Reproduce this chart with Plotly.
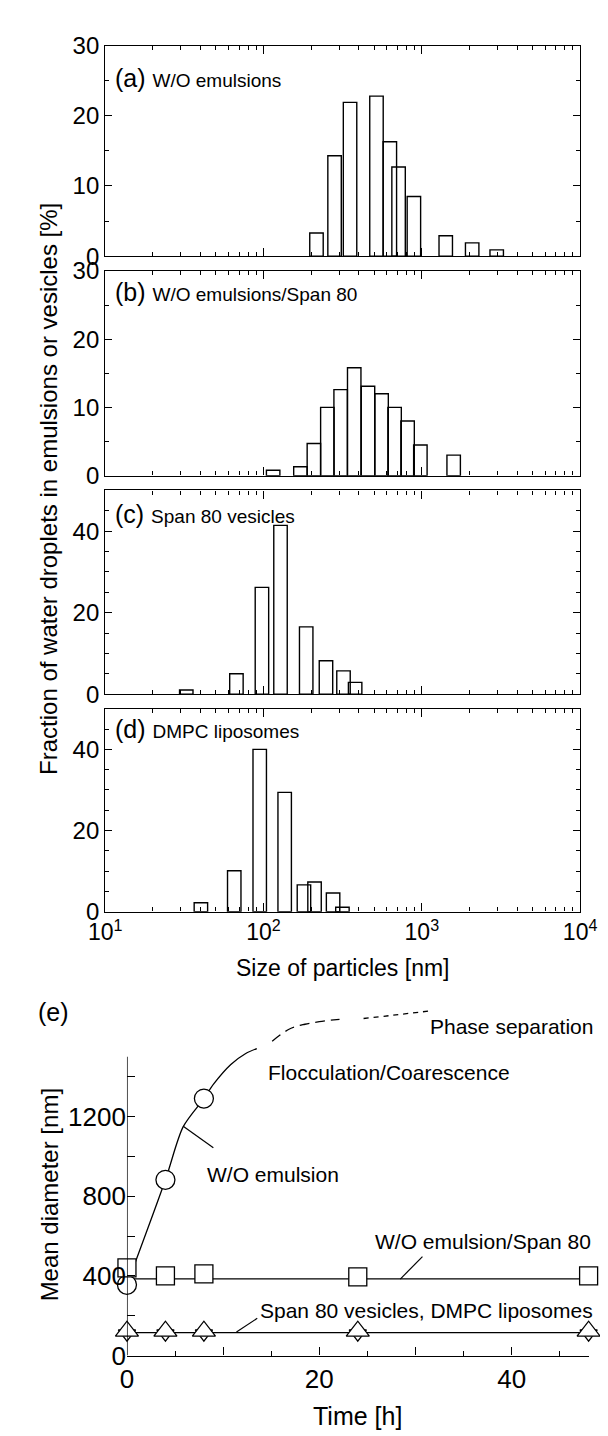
import plotly.graph_objects as go

W, H = 608, 1436
FONT = "Arial, Liberation Sans, sans-serif"

# ---------------- data: size distributions (bin centre nm, fraction %) -------------
a_size = [216, 281, 352, 517, 628, 713, 891, 1416, 2080, 2972]
a_frac = [3.3, 14.3, 21.9, 22.8, 16.3, 12.7, 8.5, 2.9, 1.9, 0.9]

b_size = [115, 171, 208, 253, 307, 374, 457, 557, 673, 813, 979, 1589]
b_frac = [0.8, 1.3, 4.7, 10.0, 12.6, 15.8, 13.1, 12.0, 10.0, 8.0, 4.5, 3.0]

c_size = [32.5, 67.4, 97.7, 128, 186, 248, 320, 379]
c_frac = [1.0, 5.0, 26.2, 41.4, 16.5, 8.2, 5.7, 2.9]

d_size = [40.2, 65.3, 94.6, 136, 180, 210, 275, 315]
d_frac = [2.2, 10.1, 40.0, 29.4, 6.6, 7.3, 4.6, 1.1]

bin_width_decades = 0.085

panel_labels = ["(a)", "(b)", "(c)", "(d)"]
panel_texts = ["W/O emulsions", "W/O emulsions/Span 80", "Span 80 vesicles", "DMPC liposomes"]
panel_ymax = [30, 30, 50, 50]
panel_ymajor = [[0, 10, 20, 30], [0, 10, 20, 30], [0, 20, 40], [0, 20, 40]]
x_major = [10, 100, 1000, 10000]
x_major_text = ["10<sup>1</sup>", "10<sup>2</sup>", "10<sup>3</sup>", "10<sup>4</sup>"]

# ---------------- data: mean diameter vs time ----------------
wo_time = [0, 4, 8]
wo_diam = [355, 882, 1290]
span_em_time = [0, 4, 8, 24, 48]
span_em_diam = [440, 400, 410, 395, 400]
span_em_level = 385
ves_time = [0, 4, 8, 24, 48]
ves_span80 = [122, 122, 122, 122, 122]
ves_dmpc = [110, 110, 110, 110, 110]
ves_level = 115

# hand-drawn guide curve of the W/O emulsion
curve_solid_t = [0, 4, 5.85, 8, 9, 10.8, 12.35, 13.5]
curve_solid_d = [355, 882, 1149, 1290, 1362, 1461, 1516, 1541]
curve_dash_t = [15.1, 16.9, 18.5, 20, 22.1]
curve_dash_d = [1578, 1639, 1663, 1676, 1688]
curve_dot_t = [24.6, 27.6, 31.5]
curve_dot_d = [1692, 1708, 1730]

time_labels = [0, 20, 40]
time_ticks_long = [10, 30]
time_ticks_short = [5, 15, 25, 35, 45]
diam_labels = [0, 400, 800, 1200]
diam_minor = [200, 600, 1000, 1400]
diam_axis_top = 1500


def px_x(p):
    return p / W


def px_y(p):
    return 1 - p / H


fig = go.Figure()

# ---------------- panels a-d ----------------
panel_px = [(24, 239), (254, 463), (478, 686), (701, 908)]
sizes = [a_size, b_size, c_size, d_size]
fracs = [a_frac, b_frac, c_frac, d_frac]
x_dom = [px_x(85), px_x(588)]
minor_x = [m * 10 ** e for e in range(1, 4) for m in range(2, 10)]

h = bin_width_decades / 2
annotations = []
for i in range(4):
    n = i + 1
    xa = "x" if n == 1 else f"x{n}"
    ya = "y" if n == 1 else f"y{n}"
    lo = [s * 10 ** (-h) for s in sizes[i]]
    hi = [s * 10 ** (h) for s in sizes[i]]
    fig.add_trace(go.Bar(
        x=sizes[i], y=fracs[i],
        width=[b - a for a, b in zip(lo, hi)],
        offset=[a - s for a, s in zip(lo, sizes[i])],
        marker=dict(color="rgba(255,255,255,0)", line=dict(color="black", width=1.4)),
        xaxis=xa, yaxis=ya, showlegend=False, hoverinfo="skip",
    ))
    top, bot = panel_px[i]
    xkey = "xaxis" if n == 1 else f"xaxis{n}"
    ykey = "yaxis" if n == 1 else f"yaxis{n}"
    fig.layout[xkey] = dict(
        type="log", range=[1, 4], domain=x_dom, anchor=ya,
        showline=True, linecolor="black", linewidth=1.4, mirror="ticks",
        ticks="inside", ticklen=8, tickwidth=1.2, tickcolor="black",
        tickvals=x_major, ticktext=x_major_text,
        showticklabels=(n == 4),
        tickfont=dict(family=FONT, size=23, color="black"),
        minor=dict(tickvals=minor_x, ticks="inside", ticklen=4, tickwidth=1.2, tickcolor="black"),
        showgrid=False, zeroline=False,
    )
    ymax = panel_ymax[i]
    fig.layout[ykey] = dict(
        range=[0, ymax], domain=[px_y(bot), px_y(top)], anchor=xa,
        showline=True, linecolor="black", linewidth=1.4, mirror="ticks",
        ticks="inside", ticklen=7, tickwidth=1.2, tickcolor="black",
        tickvals=panel_ymajor[i],
        tickfont=dict(family=FONT, size=24, color="black"),
        minor=dict(tickvals=[v for v in range(5, ymax, 5) if v not in panel_ymajor[i]],
                   ticks="inside", ticklen=4, tickwidth=1.2, tickcolor="black"),
        showgrid=False, zeroline=False,
    )

label_y = [57, 276, 502, 722]
for i in range(4):
    annotations.append(dict(
        text=f"{panel_labels[i]} <span style='font-size:19px'>{panel_texts[i]}</span>",
        x=px_x(93), y=px_y(label_y[i]), xref="paper", yref="paper",
        xanchor="left", yanchor="middle", showarrow=False,
        font=dict(family=FONT, size=25, color="black"),
    ))

annotations.append(dict(
    text="Fraction of water droplets in emulsions or vesicles [%]",
    x=px_x(25), y=px_y(477), xref="paper", yref="paper", textangle=-90,
    xanchor="center", yanchor="middle", showarrow=False,
    font=dict(family=FONT, size=24, color="black"),
))
annotations.append(dict(
    text="Size of particles [nm]",
    x=px_x(336), y=px_y(966), xref="paper", yref="paper",
    xanchor="center", yanchor="middle", showarrow=False,
    font=dict(family=FONT, size=23, color="black"),
))

# ---------------- panel e ----------------
line_style = dict(color="black", width=1.3)
fig.add_trace(go.Scatter(x=curve_solid_t, y=curve_solid_d, mode="lines",
                         line=dict(color="black", width=1.3, shape="spline", smoothing=0.8),
                         xaxis="x5", yaxis="y5", showlegend=False, hoverinfo="skip"))
fig.add_trace(go.Scatter(x=curve_dash_t, y=curve_dash_d, mode="lines",
                         line=dict(color="black", width=1.3, shape="spline", dash="10px,6px"),
                         xaxis="x5", yaxis="y5", showlegend=False, hoverinfo="skip"))
fig.add_trace(go.Scatter(x=curve_dot_t, y=curve_dot_d, mode="lines",
                         line=dict(color="black", width=1.3, shape="spline", dash="5px,5px"),
                         xaxis="x5", yaxis="y5", showlegend=False, hoverinfo="skip"))
fig.add_trace(go.Scatter(x=[span_em_time[0], span_em_time[-1]], y=[span_em_level] * 2, mode="lines",
                         line=line_style, xaxis="x5", yaxis="y5", showlegend=False, hoverinfo="skip"))
fig.add_trace(go.Scatter(x=[ves_time[0], ves_time[-1]], y=[ves_level] * 2, mode="lines",
                         line=line_style, xaxis="x5", yaxis="y5", showlegend=False, hoverinfo="skip"))

mk_line = dict(color="black", width=1.3)
fig.add_trace(go.Scatter(x=wo_time, y=wo_diam, mode="markers", cliponaxis=False,
                         marker=dict(symbol="circle", size=19, color="white", line=mk_line),
                         xaxis="x5", yaxis="y5", showlegend=False))
fig.add_trace(go.Scatter(x=span_em_time, y=span_em_diam, mode="markers", cliponaxis=False,
                         marker=dict(symbol="square", size=18, color="white", line=mk_line),
                         xaxis="x5", yaxis="y5", showlegend=False))
fig.add_trace(go.Scatter(x=ves_time, y=ves_dmpc, mode="markers", cliponaxis=False,
                         marker=dict(symbol="triangle-down", size=15, color="white", line=mk_line),
                         xaxis="x5", yaxis="y5", showlegend=False))
fig.add_trace(go.Scatter(x=ves_time, y=ves_span80, mode="markers", cliponaxis=False,
                         marker=dict(symbol="triangle-up", size=20, color="white", line=mk_line),
                         xaxis="x5", yaxis="y5", showlegend=False))

y0_px, scale = 1361, 0.2033
ytop = 1760
x5_dom = [px_x(108), px_x(597)]
fig.layout["xaxis5"] = dict(
    range=[0, 48], domain=x5_dom, anchor="y5",
    showline=True, linecolor="black", linewidth=1.4,
    ticks="inside", ticklen=8, tickwidth=1.2, tickcolor="black",
    tickvals=time_labels,
    tickfont=dict(family=FONT, size=26, color="black"),
    minor=dict(tickvals=time_ticks_long, ticks="inside", ticklen=8, tickwidth=1.2, tickcolor="black"),
    showgrid=False, zeroline=False,
)
# second (label-less) axis carrying the short 5 h ticks
fig.layout["xaxis6"] = dict(
    range=[0, 48], domain=x5_dom, anchor="y5", overlaying="x5",
    showline=False, showticklabels=False,
    ticks="inside", ticklen=5, tickwidth=1.2, tickcolor="black",
    tickvals=time_ticks_short, showgrid=False, zeroline=False,
)
fig.add_trace(go.Scatter(x=[None], y=[None], xaxis="x6", yaxis="y5", showlegend=False, hoverinfo="skip"))
fig.layout["yaxis5"] = dict(
    range=[0, ytop], domain=[px_y(y0_px), px_y(y0_px - ytop * scale)], anchor="x5",
    showline=False,
    ticks="inside", ticklen=8, tickwidth=1.2, tickcolor="black",
    tickvals=diam_labels,
    tickfont=dict(family=FONT, size=26, color="black"),
    minor=dict(tickvals=diam_minor, ticks="inside", ticklen=8, tickwidth=1.2, tickcolor="black"),
    showgrid=False, zeroline=False,
)
shapes = [dict(type="line", xref="x5", yref="y5", x0=0, x1=0, y0=0, y1=diam_axis_top,
               line=dict(color="black", width=1.4))]

# leader lines (pixel positions)
for (x0, y0, x1, y1) in [(167.6, 1127, 199.5, 1149), (421, 1260, 397.5, 1283), (246, 1323, 224, 1337)]:
    shapes.append(dict(type="line", xref="paper", yref="paper",
                       x0=px_x(x0), y0=px_y(y0), x1=px_x(x1), y1=px_y(y1),
                       line=dict(color="black", width=1.2)))

for text, x, y, anchor, size in [
    ("(e)", 12, 1010, "left", 25),
    ("Phase separation", 604, 1025, "right", 21),
    ("Flocculation/Coarescence", 255, 1072, "left", 21),
    ("W/O emulsion", 191, 1176, "left", 21),
    ("W/O emulsion/Span 80", 602, 1245, "right", 21),
    ("Span 80 vesicles, DMPC liposomes", 604, 1315, "right", 21),
]:
    annotations.append(dict(text=text, x=px_x(x), y=px_y(y), xref="paper", yref="paper",
                            xanchor=anchor, yanchor="middle", showarrow=False,
                            font=dict(family=FONT, size=size, color="black")))

annotations.append(dict(text="Mean diameter [nm]", x=px_x(26), y=px_y(1197), xref="paper", yref="paper",
                        textangle=-90, xanchor="center", yanchor="middle", showarrow=False,
                        font=dict(family=FONT, size=24, color="black")))
annotations.append(dict(text="Time [h]", x=px_x(352), y=px_y(1423), xref="paper", yref="paper",
                        xanchor="center", yanchor="middle", showarrow=False,
                        font=dict(family=FONT, size=25, color="black")))

fig.update_layout(
    width=W, height=H, autosize=False,
    margin=dict(l=0, r=0, t=0, b=0),
    paper_bgcolor="white", plot_bgcolor="white",
    barmode="overlay",
    annotations=annotations, shapes=shapes,
    font=dict(family=FONT, color="black"),
)

fig.write_html("out.html")
